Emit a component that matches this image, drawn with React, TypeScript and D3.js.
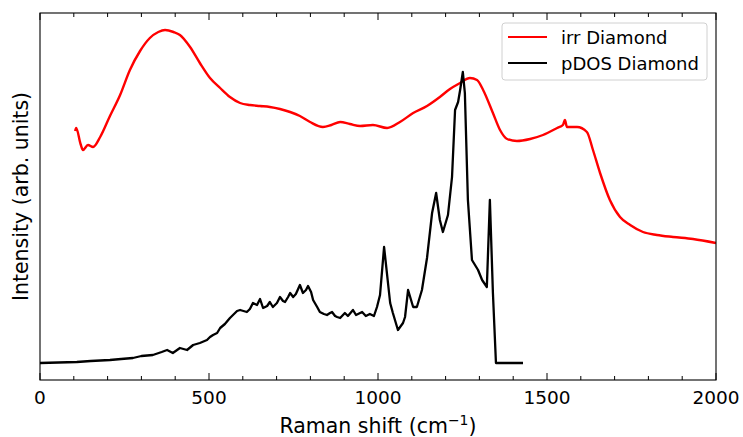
import React from "react";
import * as d3 from "d3";

const irrShift = [104, 107, 120, 127, 142, 157, 178, 207, 237, 266, 296, 325, 350, 370, 395, 414, 444, 473, 503, 533, 562, 592, 621, 651, 680, 710, 740, 769, 799, 837, 862, 888, 917, 947, 985, 1027, 1065, 1104, 1145, 1183, 1213, 1243, 1272, 1293, 1311, 1340, 1361, 1382, 1411, 1450, 1488, 1530, 1547, 1553, 1559, 1589, 1618, 1636, 1657, 1686, 1716, 1746, 1784, 1825, 1873, 1932, 2000];
const irrIntensity = [249, 252, 236, 230, 235, 233, 243, 264, 285, 310, 329, 342, 348, 350, 348, 345, 333, 317, 302, 292, 283, 277, 275, 274, 273, 271, 268, 264, 258, 253, 255, 258, 256, 254, 255, 252, 258, 267, 274, 283, 291, 297, 302, 300, 290, 267, 250, 241, 239, 241, 245, 252, 255, 260, 253, 253, 248, 230, 207, 180, 163, 155, 148, 145, 143, 141, 137];

const pdosShift = [0, 109, 150, 207, 240, 275, 300, 334, 360, 376, 393, 414, 435, 453, 473, 494, 503, 512, 524, 533, 547, 562, 583, 592, 612, 621, 630, 642, 651, 660, 672, 680, 689, 701, 710, 719, 725, 734, 740, 749, 757, 769, 778, 787, 793, 802, 808, 820, 828, 840, 849, 858, 864, 873, 879, 888, 902, 911, 926, 935, 953, 964, 976, 988, 997, 1006, 1018, 1036, 1044, 1059, 1074, 1080, 1089, 1104, 1115, 1130, 1145, 1160, 1172, 1183, 1192, 1207, 1219, 1228, 1237, 1243, 1251, 1257, 1266, 1278, 1296, 1308, 1322, 1331, 1340, 1349, 1429];
const pdosIntensity = [17, 18, 19, 20, 21, 22, 24, 25, 28, 30, 27, 32, 30, 35, 37, 40, 43, 45, 47, 52, 56, 62, 69, 70, 68, 71, 77, 75, 81, 72, 74, 78, 73, 77, 83, 79, 78, 83, 87, 83, 86, 95, 87, 90, 94, 88, 80, 73, 68, 66, 65, 67, 68, 64, 63, 62, 67, 64, 70, 65, 68, 64, 66, 64, 73, 85, 133, 77, 67, 50, 57, 63, 90, 73, 73, 90, 122, 167, 187, 160, 148, 165, 203, 270, 278, 290, 308, 287, 180, 120, 110, 100, 93, 180, 87, 17, 17];

const xTicks = [0, 500, 1000, 1500, 2000];
const xMinorTicks = d3.range(0, 2001, 100);
const seriesNames = ["irr Diamond", "pDOS Diamond"];
const seriesColors = ["#ff0000", "#000000"];

const W = 743, H = 437;
const M = { left: 40, right: 716, top: 13, bottom: 380 };
const FONT = "DejaVu Sans, sans-serif";

export default function App() {
  const x = d3.scaleLinear().domain([0, 2000]).range([M.left, M.right]);
  const y = d3.scaleLinear().domain([0, 367]).range([M.bottom, M.top]);
  const redLine = d3.line<number>().x((d, i) => x(irrShift[i])).y((d) => y(d)).curve(d3.curveMonotoneX);
  const blackLine = d3.line<number>().x((d, i) => x(pdosShift[i])).y((d) => y(d)).curve(d3.curveLinear);

  return (
    <svg width={W} height={H} style={{ position: "absolute", left: 0, top: 0, background: "#fff" }} fontFamily={FONT}>
      <rect x={0} y={0} width={W} height={H} fill="#fff" />
      <defs>
        <clipPath id="plotclip">
          <rect x={M.left} y={M.top} width={M.right - M.left} height={M.bottom - M.top} />
        </clipPath>
      </defs>
      <g clipPath="url(#plotclip)">
        <path d={redLine(irrIntensity) || ""} fill="none" stroke={seriesColors[0]} strokeWidth={2.4} strokeLinejoin="round" />
        <path d={blackLine(pdosIntensity) || ""} fill="none" stroke={seriesColors[1]} strokeWidth={2.3} strokeLinejoin="round" />
      </g>
      {xMinorTicks.map((t) => {
        const major = t % 500 === 0;
        const len = major ? 7 : 4;
        return (
          <g key={t}>
            <line x1={x(t)} x2={x(t)} y1={M.bottom} y2={M.bottom - len} stroke="#000" strokeWidth={1} />
            <line x1={x(t)} x2={x(t)} y1={M.top} y2={M.top + len} stroke="#000" strokeWidth={1} />
          </g>
        );
      })}
      {xTicks.map((t) => (
        <text key={t} x={x(t)} y={404} textAnchor="middle" fontSize={18.5} fill="#000">{t}</text>
      ))}
      <rect x={M.left} y={M.top} width={M.right - M.left} height={M.bottom - M.top} fill="none" stroke="#000" strokeWidth={1.1} />
      <text x={(M.left + M.right) / 2} y={433} textAnchor="middle" fontSize={20.5} fill="#000">
        Raman shift (cm<tspan dy={-8} fontSize={14}>−1</tspan><tspan dy={8}>)</tspan>
      </text>
      <text transform={`translate(28,${(M.top + M.bottom) / 2}) rotate(-90)`} textAnchor="middle" fontSize={20.5} fill="#000">
        Intensity (arb. units)
      </text>
      <g>
        <rect x={502} y={23} width={205} height={57} rx={3} fill="#fff" fillOpacity={0.8} stroke="#d0d0d0" strokeWidth={1} />
        {seriesNames.map((n, i) => (
          <g key={n}>
            <line x1={508} x2={547} y1={37 + i * 26} y2={37 + i * 26} stroke={seriesColors[i]} strokeWidth={2} />
            <text x={561} y={43.5 + i * 26} fontSize={18} fill="#000">{n}</text>
          </g>
        ))}
      </g>
    </svg>
  );
}
